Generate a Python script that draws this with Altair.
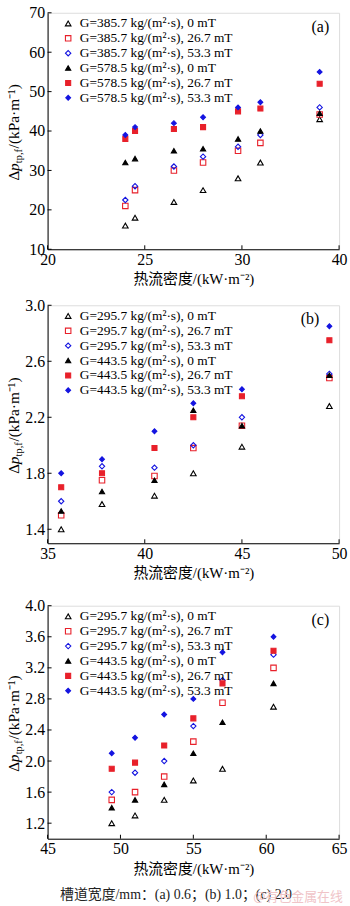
import altair as alt
import pandas as pd

FONT = "Liberation Serif"
CJK = "Liberation Serif, Noto Sans CJK SC"

# ---------------- data ----------------
SER_A = ["G=385.7 kg/(m²·s), 0 mT", "G=385.7 kg/(m²·s), 26.7 mT", "G=385.7 kg/(m²·s), 53.3 mT",
         "G=578.5 kg/(m²·s), 0 mT", "G=578.5 kg/(m²·s), 26.7 mT", "G=578.5 kg/(m²·s), 53.3 mT"]
SER_BC = ["G=295.7 kg/(m²·s), 0 mT", "G=295.7 kg/(m²·s), 26.7 mT", "G=295.7 kg/(m²·s), 53.3 mT",
          "G=443.5 kg/(m²·s), 0 mT", "G=443.5 kg/(m²·s), 26.7 mT", "G=443.5 kg/(m²·s), 53.3 mT"]

# (a) channel width 0.6 mm
A_X = [24.0, 24.5, 26.5, 28.0, 29.8, 31.9, 38.0]
a_385_0 = [16, 18, 22, 25, 28, 32, 43]
a_385_267 = [21, 25, 30, 32, 35, 37, 44.2]
a_385_533 = [22.5, 26, 31, 33.5, 36, 39, 46]
a_578_0 = [32, 33, 35, 35.5, 38, 40, 44.5]
a_578_267 = [38, 40, 40.5, 41, 45, 45.7, 52]
a_578_533 = [39, 41, 42, 43.5, 46, 47.3, 55]

# (b) channel width 1.0 mm
B_X = [35.7, 37.8, 40.5, 42.5, 45.0, 49.5]
b_295_0 = [1.40, 1.58, 1.64, 1.80, 1.99, 2.28]
b_295_267 = [1.50, 1.75, 1.78, 1.98, 2.14, 2.48]
b_295_533 = [1.60, 1.85, 1.84, 2.00, 2.20, 2.51]
b_443_0 = [1.53, 1.67, 1.75, 2.25, 2.14, 2.50]
b_443_267 = [1.70, 1.80, 1.98, 2.20, 2.35, 2.75]
b_443_533 = [1.80, 1.90, 2.10, 2.30, 2.40, 2.85]

# (c) channel width 2.0 mm
C_X = [49.4, 51.0, 53.0, 55.0, 57.0, 60.5]
c_295_0 = [1.20, 1.30, 1.50, 1.75, 1.90, 2.70]
c_295_267 = [1.50, 1.60, 1.80, 2.25, 2.75, 3.20]
c_295_533 = [1.60, 1.85, 2.00, 2.45, 3.04, 3.37]
c_443_0 = [1.40, 1.50, 1.70, 2.10, 2.50, 3.00]
c_443_267 = [1.90, 1.98, 2.20, 2.55, 3.00, 3.42]
c_443_533 = [2.10, 2.30, 2.60, 2.80, 3.40, 3.60]

A_XTICKS = [20, 25, 30, 40]
B_XTICKS = [35, 40, 45, 50]
C_XTICKS = [45, 50, 55, 60, 65]
A_YTICKS = [10, 20, 30, 40, 50, 60, 70]
B_YTICKS = [1.4, 1.8, 2.2, 2.6, 3.0]
C_YTICKS = [1.2, 1.6, 2.0, 2.4, 2.8, 3.2, 3.6, 4.0]

X_TITLE = "热流密度/(kW·m⁻²)"
CAPTION = "槽道宽度/mm：(a) 0.6；(b) 1.0；(c) 2.0"
WATERMARK = "@有色金属在线"

# ---------------- styling ----------------
SHAPES = ["triangle-up", "square", "diamond", "triangle-up", "square", "diamond"]
STROKES = ["#000000", "#e8202a", "#1414e0", "#000000", "#e8202a", "#1414e0"]
FILLS = ["transparent", "transparent", "transparent", "#000000", "#e8202a", "#1414e0"]
SIZES = [32, 24, 40, 32, 24, 40]

W = 294


def make_df(xs, series, ys_list):
    rows = []
    for s, ys in zip(series, ys_list):
        for x, y in zip(xs, ys):
            rows.append({"x": x, "y": y, "series": s})
    return pd.DataFrame(rows)


one = pd.DataFrame({"k": [0]})


def panel(df, series, xscale, xticks, ydom, yticks, yfmt, h, label, label_dx, extra=None):
    xaxis = alt.Axis(values=xticks, title=X_TITLE, ticks=False, grid=False,
                     labelFont=FONT, labelFontSize=16, labelColor="black",
                     titleFont=CJK, titleFontSize=15, titleFontWeight="normal",
                     titleColor="black", labelPadding=2, titlePadding=5,
                     domainColor="black", labelFlush=False, labelOverlap=False)
    yaxis = alt.Axis(values=yticks, format=yfmt, title=None, ticks=False, grid=False,
                     labelFont=FONT, labelFontSize=16, labelColor="black",
                     labelPadding=3, domainColor="black", labelFlush=False,
                     labelOverlap=False)
    X = alt.X("x:Q", scale=xscale, axis=xaxis)
    Y = alt.Y("y:Q", scale=alt.Scale(domain=ydom, nice=False, zero=False), axis=yaxis)

    leg = alt.Legend(title=None, orient="none", legendX=14, legendY=4,
                     labelFont=FONT, labelFontSize=13.5, labelColor="black",
                     rowPadding=0, labelOffset=5, padding=0,
                     symbolStrokeWidth=1.1, labelLimit=300)

    pts = alt.Chart(df).mark_point(opacity=1, strokeWidth=1.1).encode(
        x=X, y=Y,
        shape=alt.Shape("series:N", scale=alt.Scale(domain=series, range=SHAPES), legend=leg),
        stroke=alt.Stroke("series:N", scale=alt.Scale(domain=series, range=STROKES), legend=leg),
        fill=alt.Fill("series:N", scale=alt.Scale(domain=series, range=FILLS), legend=leg),
        size=alt.Size("series:N", scale=alt.Scale(domain=series, range=SIZES), legend=leg),
    )

    xt = alt.Chart(pd.DataFrame({"x": xticks})).mark_rule(color="black", strokeWidth=1).encode(
        x=X, y=alt.value(h), y2=alt.value(h - 4))
    yt = alt.Chart(pd.DataFrame({"y": yticks})).mark_rule(color="black", strokeWidth=1).encode(
        y=Y, x=alt.value(0), x2=alt.value(4))

    lab = alt.Chart(one).mark_text(text=label, font=FONT, fontSize=16, align="right",
                                   baseline="middle", color="black").encode(
        x=alt.value(W - label_dx), y=alt.value(14))

    # y-axis title with subscript, drawn in pieces
    y0 = h / 2 + 50
    xb = -29
    t1 = alt.Chart(one).mark_text(text="Δ", font=FONT, fontSize=15.5, angle=270, align="left",
                                  baseline="alphabetic", color="black").encode(
        x=alt.value(xb), y=alt.value(y0))
    t2 = alt.Chart(one).mark_text(text="p", font=FONT, fontSize=15.5, fontStyle="italic", angle=270,
                                  align="left", baseline="alphabetic", color="black").encode(
        x=alt.value(xb), y=alt.value(y0 - 9.6))
    t3 = alt.Chart(one).mark_text(text="tp,f", font=FONT, fontSize=10.5, angle=270, align="left",
                                  baseline="alphabetic", color="black").encode(
        x=alt.value(xb + 3.5), y=alt.value(y0 - 17.6))
    t4 = alt.Chart(one).mark_text(text="/(kPa·m⁻¹)", font=FONT, fontSize=15.5, angle=270,
                                  align="left", baseline="alphabetic", color="black").encode(
        x=alt.value(xb), y=alt.value(y0 - 32.5))

    layers = [pts, xt, yt, lab, t1, t2, t3, t4]
    if extra:
        layers += extra
    return alt.layer(*layers).properties(width=W, height=h)


df_a = make_df(A_X, SER_A, [a_385_0, a_385_267, a_385_533, a_578_0, a_578_267, a_578_533])
df_b = make_df(B_X, SER_BC, [b_295_0, b_295_267, b_295_533, b_443_0, b_443_267, b_443_533])
df_c = make_df(C_X, SER_BC, [c_295_0, c_295_267, c_295_533, c_443_0, c_443_267, c_443_533])

HA, HB, HC = 238.5, 240, 235

pa = panel(df_a, SER_A,
           alt.Scale(domain=[20, 25, 30, 40], range=[0, W / 3, 2 * W / 3, W], nice=False, zero=False),
           A_XTICKS, [10, 70], A_YTICKS, "d", HA, "(a)", 10)
pb = panel(df_b, SER_BC, alt.Scale(domain=[35, 50], nice=False, zero=False),
           B_XTICKS, [1.3, 3.0], B_YTICKS, ".1f", HB, "(b)", 20)

cap = alt.Chart(one).mark_text(text=CAPTION, font=CJK, fontSize=14, align="center",
                               baseline="middle", color="#222222").encode(
    x=alt.value(129.5), y=alt.value(HC + 57))
wm = alt.Chart(one).mark_text(text=WATERMARK, font="Noto Sans CJK SC", fontSize=13, align="left",
                              baseline="middle", color="#f0c4c8").encode(
    x=alt.value(207.5), y=alt.value(HC + 59))

pc = panel(df_c, SER_BC, alt.Scale(domain=[45, 65], nice=False, zero=False),
           C_XTICKS, [1.0, 4.0], C_YTICKS, ".1f", HC, "(c)", 10, extra=[cap, wm])

top2 = alt.vconcat(pa, pb, spacing=9).resolve_scale(
    shape="independent", stroke="independent", fill="independent", size="independent")

chart = alt.vconcat(top2, pc, spacing=15).resolve_scale(
    shape="independent", stroke="independent", fill="independent", size="independent"
).properties(
    padding={"left": 6, "top": 0, "right": 2, "bottom": 2}
).configure_view(stroke="black", strokeWidth=1).configure(background="white")

chart.save("out.html", embed_options={"renderer": "svg", "actions": False})
